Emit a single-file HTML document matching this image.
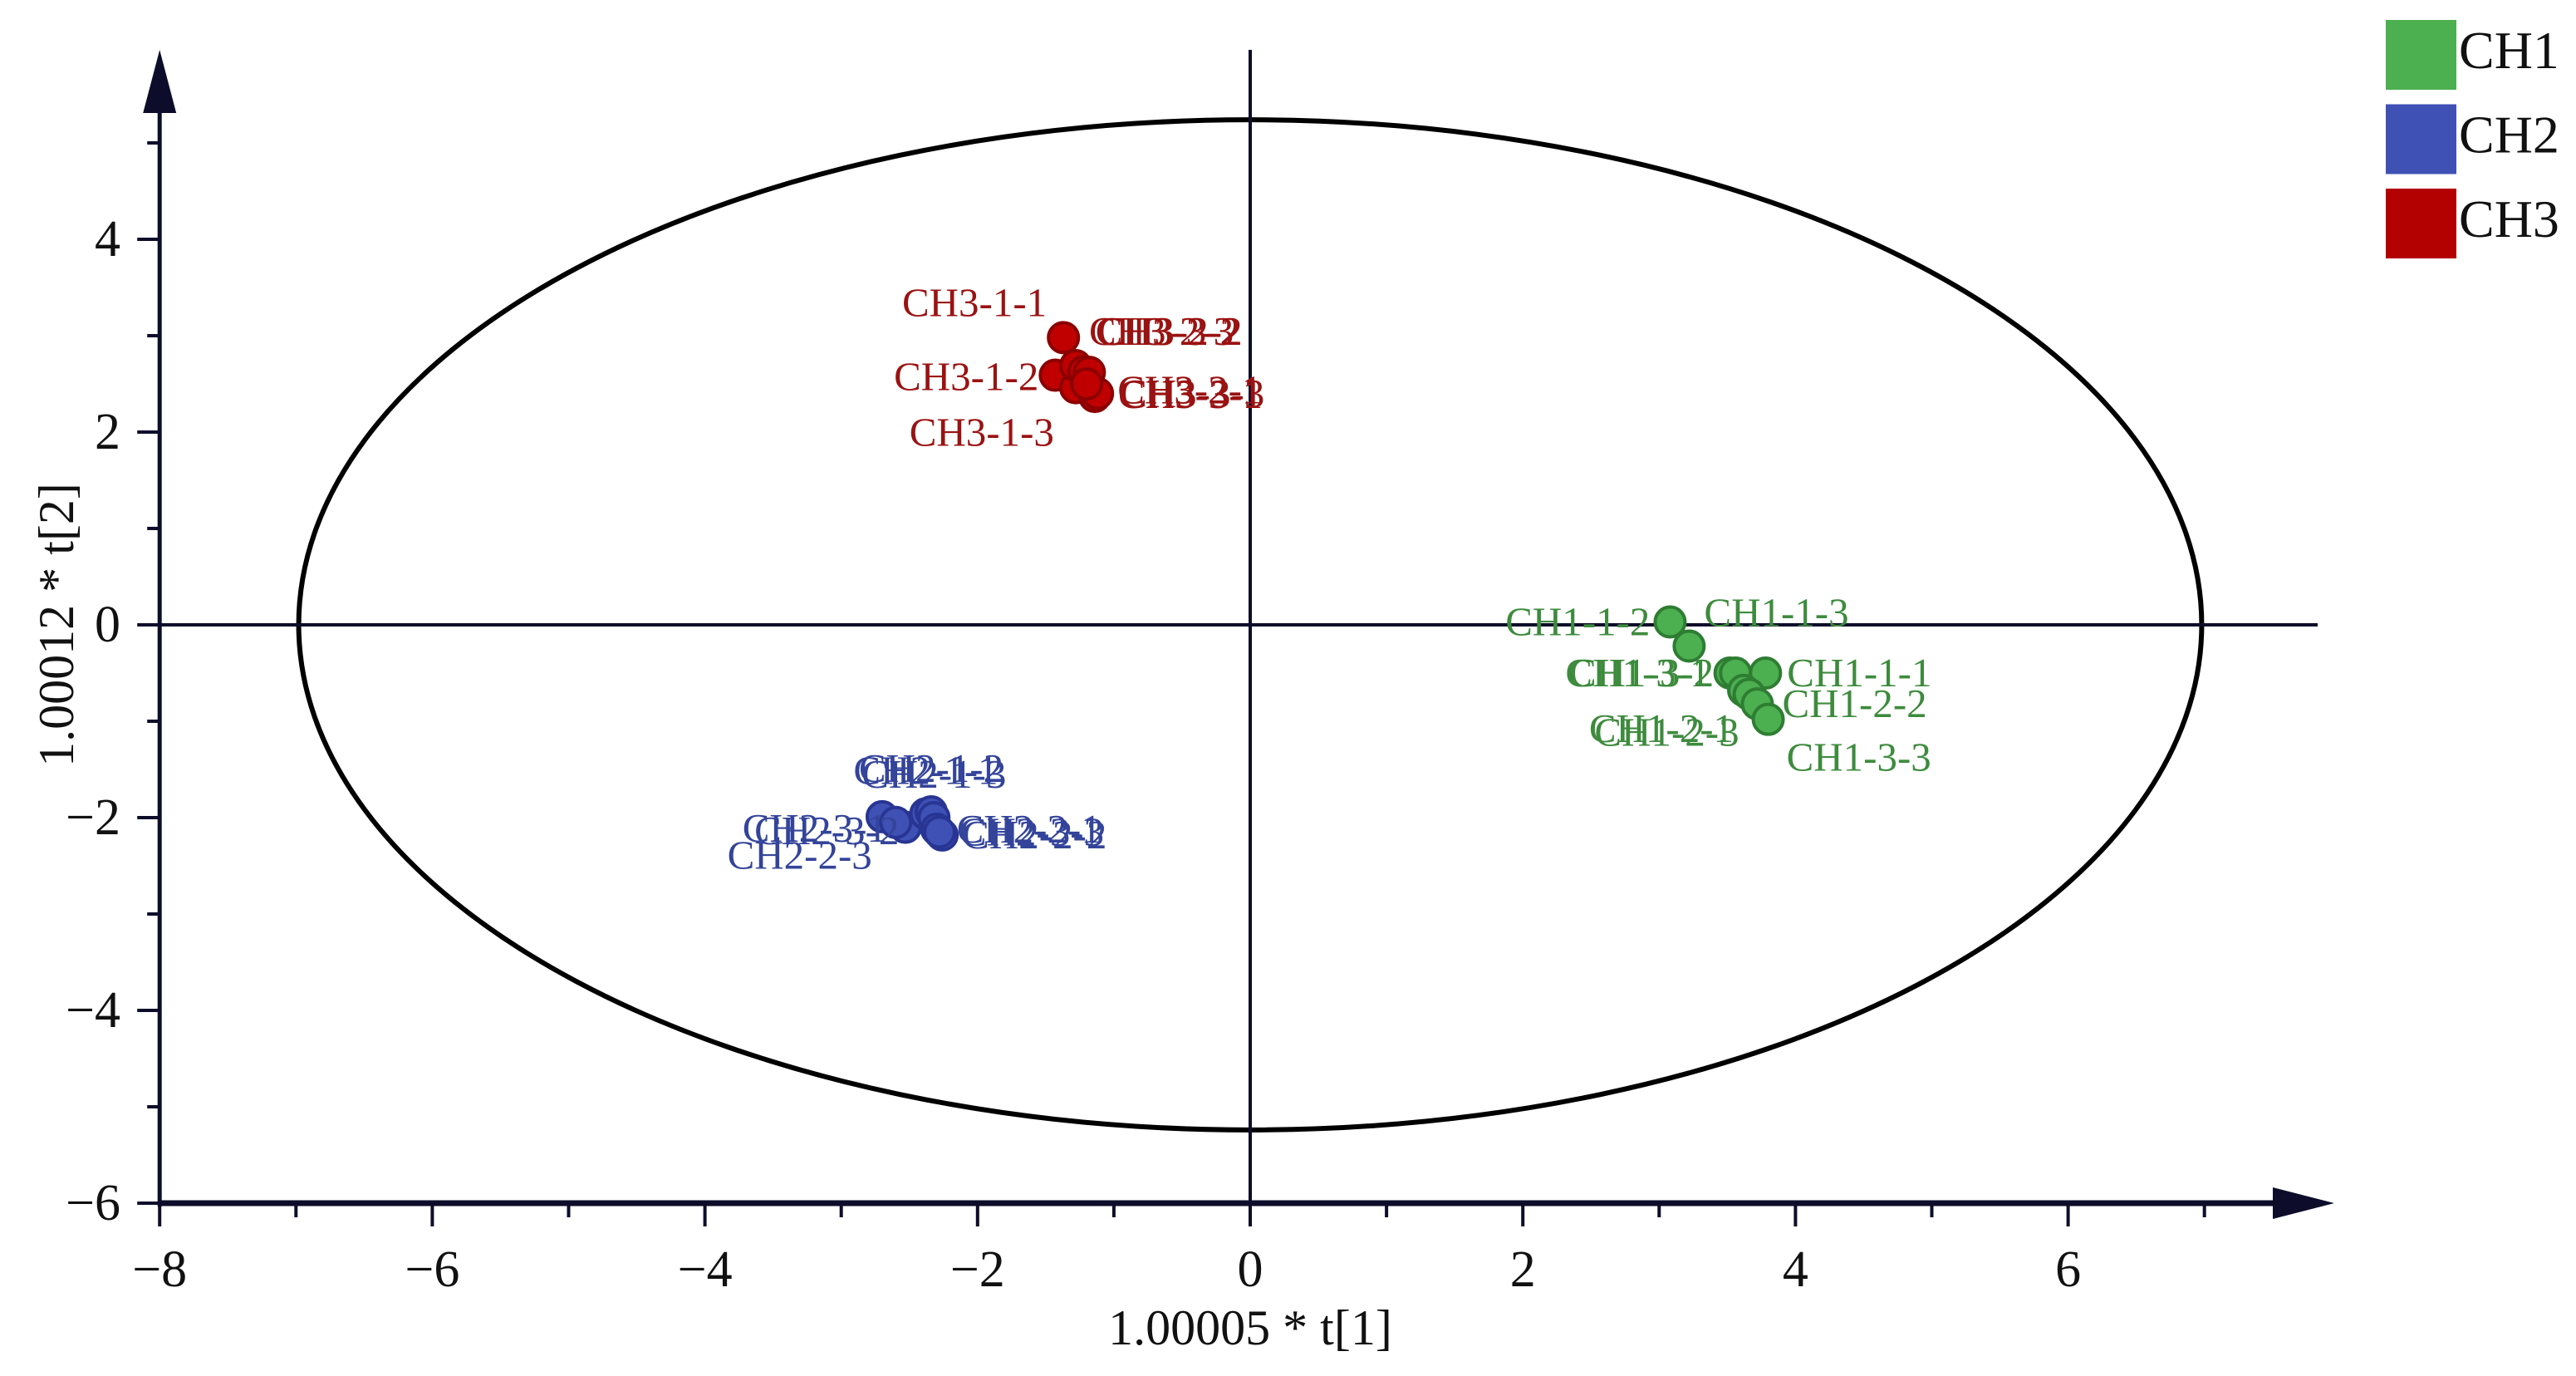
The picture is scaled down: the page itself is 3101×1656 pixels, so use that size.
<!DOCTYPE html>
<html><head><meta charset="utf-8"><style>
html,body{margin:0;padding:0;background:#fff;}
svg{display:block;font-family:"Liberation Serif",serif;}
</style></head><body>
<svg id="chart" width="3101" height="1656" viewBox="0 0 3101 1656" xmlns="http://www.w3.org/2000/svg"></svg>
<script>
const xTicks = [-8,-6,-4,-2,0,2,4,6];
const yTicks = [-6,-4,-2,0,2,4];
const groups = ["CH1","CH2","CH3"];
const ch1Names = ["CH1-1-2","CH1-1-3","CH1-3-1","CH1-3-2","CH1-1-1","CH1-2-1","CH1-2-3","CH1-2-2","CH1-3-3"];
const ch1X = [3.08,3.22,3.52,3.56,3.78,3.62,3.66,3.72,3.8];
const ch1Y = [0.03,-0.22,-0.5,-0.5,-0.5,-0.68,-0.72,-0.82,-0.98];
const ch2Names = ["CH2-3-1","CH2-2-3","CH2-1-1","CH2-1-2","CH2-1-3","CH2-3-2","CH2-2-1","CH2-2-2","CH2-3-3"];
const ch2X = [-2.7,-2.53,-2.38,-2.34,-2.32,-2.6,-2.3,-2.26,-2.28];
const ch2Y = [-1.99,-2.1,-1.96,-1.94,-2.0,-2.05,-2.12,-2.18,-2.15];
const ch3Names = ["CH3-1-1","CH3-1-2","CH3-1-3","CH3-2-3","CH3-3-2","CH3-2-2","CH3-3-1","CH3-2-1","CH3-3-3"];
const ch3X = [-1.37,-1.43,-1.28,-1.28,-1.22,-1.18,-1.14,-1.12,-1.2];
const ch3Y = [2.98,2.59,2.46,2.69,2.63,2.62,2.37,2.4,2.5];

// label placement (px offsets: dx, dy, anchor) — layout only
const ch1Lab = [[-24,16,"end"],[18,-24,"start"],[-24,16,"end"],[-26,16,"end"],[26,16,"start"],[-12,62,"end"],[-12,62,"end"],[30,16,"start"],[22,62,"start"]];
const ch2Lab = [[6,30,"end"],[-40,50,"end"],[0,-36,"middle"],[0,-36,"middle"],[0,-36,"middle"],[4,26,"end"],[24,16,"start"],[24,16,"start"],[24,16,"start"]];
const ch3Lab = [[-20,-26,"end"],[-20,18,"end"],[-26,70,"end"],[16,-25,"start"],[14,-32,"start"],[10,-33,"start"],[28,14,"start"],[24,12,"start"],[40,28,"start"]];

const NS="http://www.w3.org/2000/svg";
const svg=document.getElementById('chart');
const X0=1505, XU=164.1, Y0=752, YU=116;
const sx=v=>X0+v*XU, sy=v=>Y0-v*YU;
function el(t,a,p){const e=document.createElementNS(NS,t);for(const k in a)e.setAttribute(k,a[k]);(p||svg).appendChild(e);return e;}
const axisC="#0d0d2b";

const ell=el('ellipse',{cx:sx(0),cy:sy(0),rx:6.98*XU,ry:5.24*YU,fill:'none',stroke:'#000','stroke-width':6});



const zh=el('line',{x1:sx(-8),x2:2790,y1:sy(0),y2:sy(0),stroke:axisC,'stroke-width':4});


const zv=el('line',{x1:sx(0),x2:sx(0),y1:60,y2:sy(-6),stroke:axisC,'stroke-width':4});



const ya=el('line',{x1:sx(-8),x2:sx(-8),y1:130,y2:sy(-6)+4,stroke:axisC,'stroke-width':5});


const yar=el('polygon',{points:`${sx(-8)},60 ${sx(-8)-20},136 ${sx(-8)+20},136`,fill:axisC});


const xa=el('line',{x1:sx(-8)-2,x2:2760,y1:sy(-6),y2:sy(-6),stroke:axisC,'stroke-width':7});


const xar=el('polygon',{points:`2810,${sy(-6)} 2736,${sy(-6)-19} 2736,${sy(-6)+19}`,fill:axisC});



for(let v=-6;v<=5;v++){
  const major=v%2===0;
  const t=el('line',{x1:sx(-8)-(major?27:15),x2:sx(-8),y1:sy(v),y2:sy(v),stroke:axisC,'stroke-width':4});
  
  
}
yTicks.forEach(v=>{
  const t=el('text',{x:145,y:sy(v)+20,'text-anchor':'end','font-size':62,fill:'#111'});
  t.textContent=v<0?'\u2212'+Math.abs(v):String(v);
  
  
});
for(let v=-8;v<=7;v++){
  const major=v%2===0;
  const t=el('line',{x1:sx(v),x2:sx(v),y1:sy(-6),y2:sy(-6)+(major?28:17),stroke:axisC,'stroke-width':4});
  
  
}
xTicks.forEach(v=>{
  const t=el('text',{x:sx(v),y:1548,'text-anchor':'middle','font-size':62,fill:'#111'});
  t.textContent=v<0?'\u2212'+Math.abs(v):String(v);
  
  
});
const xt=el('text',{x:1505,y:1618,'text-anchor':'middle','font-size':60,fill:'#111'});
xt.textContent='1.00005 * t[1]';


const yt=el('text',{x:0,y:0,'text-anchor':'middle','font-size':60,fill:'#111',transform:'translate(88,752) rotate(-90)'});
yt.textContent='1.00012 * t[2]';



const series=[
 {n:ch1Names,x:ch1X,y:ch1Y,l:ch1Lab,fill:'#4caf50',stroke:'#2e7d32',txt:'#3d8b3d',key:'ch1'},
 {n:ch2Names,x:ch2X,y:ch2Y,l:ch2Lab,fill:'#3f51b5',stroke:'#283593',txt:'#34449a',key:'ch2'},
 {n:ch3Names,x:ch3X,y:ch3Y,l:ch3Lab,fill:'#c00000',stroke:'#8b0000',txt:'#9a1212',key:'ch3'}
];
series.forEach(s=>{
  const g=el('g',{});
  
  
  s.x.forEach((xv,i)=>{
    const c=el('circle',{cx:sx(xv),cy:sy(s.y[i]),r:18,fill:s.fill,stroke:s.stroke,'stroke-width':4},g);
    
    
  });
  s.x.forEach((xv,i)=>{
    const o=s.l[i];
    const t=el('text',{x:sx(xv)+o[0],y:sy(s.y[i])+o[1],'text-anchor':o[2],'font-size':49,fill:s.txt},g);
    t.textContent=s.n[i];
    
    
  });
});

const legCols=['#4caf50','#3f51b5','#b30000'];
groups.forEach((gname,i)=>{
  const r=el('rect',{x:2872,y:24+i*101.5,width:85,height:84,fill:legCols[i]});
  
  
  const t=el('text',{x:2960,y:82+i*101.5,'font-size':64,fill:'#111'});
  t.textContent=gname;
  
  
});
</script>
</body></html>
